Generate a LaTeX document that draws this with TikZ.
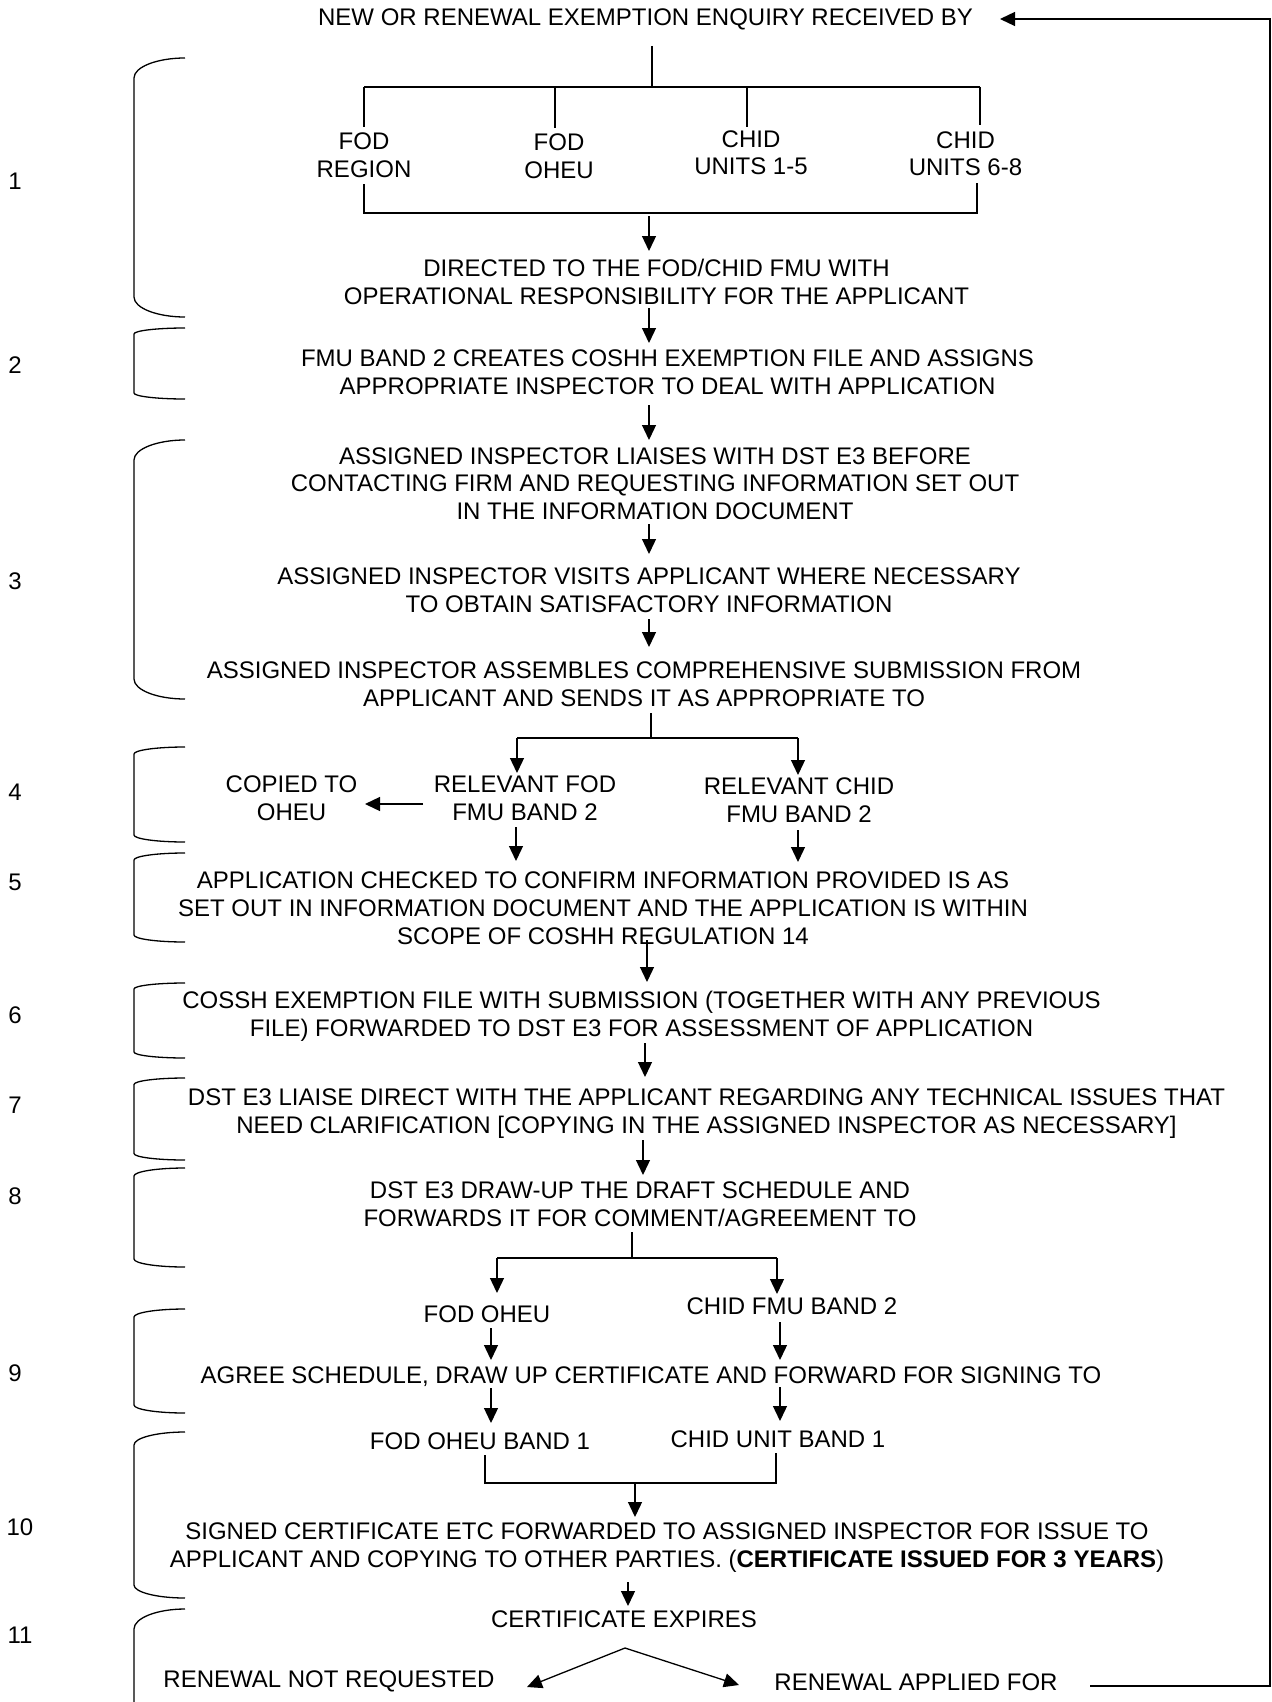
\documentclass[tikz,border=0pt]{standalone}
\usepackage{fontspec}
\setmainfont{Liberation Sans}
\usetikzlibrary{arrows.meta}
\newcommand\lbrk[3]{%
  \draw[ln] (185,#1) .. controls (157,#1) and (134,{#1+0.448*#3}) .. (134,{#1+#3})
    -- (134,{#2-#3}) .. controls (134,{#2-0.448*#3}) and (157,#2) .. (185,#2);}
\begin{document}
\begin{tikzpicture}[x=0.5pt,y=-0.5pt,
  lbl/.style={font=\fontsize{12}{13.9}\selectfont, inner sep=0pt, anchor=base, align=center},
  ln/.style={line width=0.65pt},
  arr/.style={ln,-{Triangle[width=7pt,length=7.5pt]}}]
\useasboundingbox (0,0) rectangle (1271,1702);

% ---------- text nodes (anchor = baseline of last line) ----------
\node[lbl] (title) at (645.5,26) {NEW OR RENEWAL EXEMPTION ENQUIRY RECEIVED BY};
\node[lbl] (fodr) at (364,177) {FOD\\REGION};
\node[lbl] (fodo) at (559,178) {FOD\\OHEU};
\node[lbl] (chid15) at (751,175) {CHID\\UNITS 1-5};
\node[lbl] (chid68) at (965.5,176) {CHID\\UNITS 6-8};
\node[lbl] (dir) at (656.5,304) {DIRECTED TO THE FOD/CHID FMU WITH\\OPERATIONAL RESPONSIBILITY FOR THE APPLICANT};
\node[lbl] (fmu) at (667.5,394.5) {FMU BAND 2 CREATES COSHH EXEMPTION FILE AND ASSIGNS\\APPROPRIATE INSPECTOR TO DEAL WITH APPLICATION};
\node[lbl] (liai) at (655,519.6) {ASSIGNED INSPECTOR LIAISES WITH DST E3 BEFORE\\CONTACTING FIRM AND REQUESTING INFORMATION SET OUT\\IN THE INFORMATION DOCUMENT};
\node[lbl] (visit) at (649,612) {ASSIGNED INSPECTOR VISITS APPLICANT WHERE NECESSARY\\TO OBTAIN SATISFACTORY INFORMATION};
\node[lbl] (assem) at (644,706) {ASSIGNED INSPECTOR ASSEMBLES COMPREHENSIVE SUBMISSION FROM\\APPLICANT AND SENDS IT AS APPROPRIATE TO};
\node[lbl] (relfod) at (525,820) {RELEVANT FOD\\FMU BAND 2};
\node[lbl] (relchid) at (799,822) {RELEVANT CHID\\FMU BAND 2};
\node[lbl] (copied) at (291.5,820) {COPIED TO\\OHEU};
\node[lbl] (check) at (603,944) {APPLICATION CHECKED TO CONFIRM INFORMATION PROVIDED IS AS\\SET OUT IN INFORMATION DOCUMENT AND THE APPLICATION IS WITHIN\\SCOPE OF COSHH REGULATION 14};
\node[lbl] (cossh) at (641.5,1036.5) {COSSH EXEMPTION FILE WITH SUBMISSION (TOGETHER WITH ANY PREVIOUS\\FILE) FORWARDED TO DST E3 FOR ASSESSMENT OF APPLICATION};
\node[lbl] (liaise) at (706.5,1133) {DST E3 LIAISE DIRECT WITH THE APPLICANT REGARDING ANY TECHNICAL ISSUES THAT\\NEED CLARIFICATION [COPYING IN THE ASSIGNED INSPECTOR AS NECESSARY]};
\node[lbl] (draft) at (640,1226) {DST E3 DRAW-UP THE DRAFT SCHEDULE AND\\FORWARDS IT FOR COMMENT/AGREEMENT TO};
\node[lbl] (fodoheu) at (487,1322) {FOD OHEU};
\node[lbl] (chidfmu) at (792,1314) {CHID FMU BAND 2};
\node[lbl] (agree) at (651,1383) {AGREE SCHEDULE, DRAW UP CERTIFICATE AND FORWARD FOR SIGNING TO};
\node[lbl] (fodb1) at (480,1449) {FOD OHEU BAND 1};
\node[lbl] (chidb1) at (778,1447) {CHID UNIT BAND 1};
\node[lbl] (signed) at (667,1567) {SIGNED CERTIFICATE ETC FORWARDED TO ASSIGNED INSPECTOR FOR ISSUE TO\\APPLICANT AND COPYING TO OTHER PARTIES. (\textbf{CERTIFICATE ISSUED FOR 3 YEARS})};
\node[lbl] (expires) at (624,1627) {CERTIFICATE EXPIRES};
\node[lbl] (notreq) at (329,1687) {RENEWAL NOT REQUESTED};
\node[lbl] (applied) at (916,1690) {RENEWAL APPLIED FOR};

% ---------- step numbers ----------
\node[lbl] (n1) at (15,190) {1};
\node[lbl] (n2) at (15,373) {2};
\node[lbl] (n3) at (15,589) {3};
\node[lbl] (n4) at (15,800) {4};
\node[lbl] (n5) at (15,890) {5};
\node[lbl] (n6) at (15,1023) {6};
\node[lbl] (n7) at (15,1113) {7};
\node[lbl] (n8) at (15,1204) {8};
\node[lbl] (n9) at (15,1381) {9};
\node[lbl] (n10) at (20,1535) {10};
\node[lbl] (n11) at (20,1643) {11};

% ---------- brackets ----------
\lbrk{58}{317}{20}
\lbrk{328}{399}{6}
\lbrk{440}{699}{20}
\lbrk{747}{842}{7}
\lbrk{853}{942}{7}
\lbrk{983}{1058}{6}
\lbrk{1078}{1160}{6.5}
\lbrk{1168}{1267}{8}
\lbrk{1309}{1413}{8}
\lbrk{1432}{1598}{13}
\draw[ln] (185,1609) .. controls (157,1609) and (134,1618) .. (134,1629) -- (134,1702);

% ---------- coordinates ----------
\coordinate (s0a) at (652,46);   \coordinate (s0b) at (652,87);
\coordinate (barL) at (364,87);  \coordinate (barR) at (980,87);
\coordinate (d1) at (364,127);   \coordinate (d2t) at (555,87);  \coordinate (d2) at (555,128);
\coordinate (d3t) at (747,87);   \coordinate (d3) at (747,127);  \coordinate (d4) at (980,125);
\coordinate (u1) at (364,184);   \coordinate (u1b) at (364,213);
\coordinate (u4b) at (977,213);  \coordinate (u4) at (977,183);
\coordinate (a1s) at (649,216);  \coordinate (a1e) at (649,251);
\coordinate (a2s) at (649,308);  \coordinate (a2e) at (649,343);
\coordinate (a3s) at (649,405);  \coordinate (a3e) at (649,440);
\coordinate (a4s) at (649,524);  \coordinate (a4e) at (649,554);
\coordinate (a5s) at (649,619);  \coordinate (a5e) at (649,647);
\coordinate (s1a) at (651,713);  \coordinate (s1b) at (651,738);
\coordinate (b1L) at (517,738);  \coordinate (b1R) at (798,738);
\coordinate (b1Le) at (517,773); \coordinate (b1Re) at (798,775);
\coordinate (cpS) at (423,804);  \coordinate (cpE) at (365,804);
\coordinate (f1s) at (516,827);  \coordinate (f1e) at (516,861);
\coordinate (f2s) at (798,830);  \coordinate (f2e) at (798,862);
\coordinate (a6s) at (647,940);  \coordinate (a6e) at (647,982);
\coordinate (a7s) at (645,1043); \coordinate (a7e) at (645,1077);
\coordinate (a8s) at (643,1140); \coordinate (a8e) at (643,1175);
\coordinate (s2a) at (632,1232); \coordinate (s2b) at (632,1258);
\coordinate (b2L) at (497,1258); \coordinate (b2R) at (777,1258);
\coordinate (b2Le) at (497,1293);\coordinate (b2Re) at (777,1294);
\coordinate (g1s) at (491,1328); \coordinate (g1e) at (491,1360);
\coordinate (g2s) at (780,1322); \coordinate (g2e) at (780,1360);
\coordinate (h1s) at (491,1388); \coordinate (h1e) at (491,1423);
\coordinate (h2s) at (780,1387); \coordinate (h2e) at (780,1421);
\coordinate (k1) at (485,1455);  \coordinate (k1b) at (485,1483);
\coordinate (k2b) at (776,1483); \coordinate (k2) at (776,1453);
\coordinate (a9s) at (635,1483); \coordinate (a9e) at (635,1517);
\coordinate (a10s) at (628,1582);\coordinate (a10e) at (628,1606);
\coordinate (apex) at (625,1648);
\coordinate (tipL) at (527,1687);\coordinate (tipR) at (739,1685);
\coordinate (lp0) at (1090,1686);\coordinate (lp1) at (1270,1686);
\coordinate (lp2) at (1270,19);  \coordinate (lp3) at (1000,19);

% ---------- connectors ----------
\draw[ln] (s0a) -- (s0b);
\draw[ln] (barL) -- (barR);
\draw[ln] (barL) -- (d1);
\draw[ln] (d2t) -- (d2);
\draw[ln] (d3t) -- (d3);
\draw[ln] (barR) -- (d4);
\draw[ln] (u1) -- (u1b) -- (u4b) -- (u4);
\draw[arr] (a1s) -- (a1e);
\draw[arr] (a2s) -- (a2e);
\draw[arr] (a3s) -- (a3e);
\draw[arr] (a4s) -- (a4e);
\draw[arr] (a5s) -- (a5e);
\draw[ln] (s1a) -- (s1b);
\draw[ln] (b1L) -- (b1R);
\draw[arr] (b1L) -- (b1Le);
\draw[arr] (b1R) -- (b1Re);
\draw[arr] (cpS) -- (cpE);
\draw[arr] (f1s) -- (f1e);
\draw[arr] (f2s) -- (f2e);
\draw[arr] (a6s) -- (a6e);
\draw[arr] (a7s) -- (a7e);
\draw[arr] (a8s) -- (a8e);
\draw[ln] (s2a) -- (s2b);
\draw[ln] (b2L) -- (b2R);
\draw[arr] (b2L) -- (b2Le);
\draw[arr] (b2R) -- (b2Re);
\draw[arr] (g1s) -- (g1e);
\draw[arr] (g2s) -- (g2e);
\draw[arr] (h1s) -- (h1e);
\draw[arr] (h2s) -- (h2e);
\draw[ln] (k1) -- (k1b) -- (k2b) -- (k2);
\draw[arr] (a9s) -- (a9e);
\draw[arr] (a10s) -- (a10e);
\draw[arr] (apex) -- (tipL);
\draw[arr] (apex) -- (tipR);
\draw[arr] (lp0) -- (lp1) -- (lp2) -- (lp3);
\end{tikzpicture}
\end{document}
